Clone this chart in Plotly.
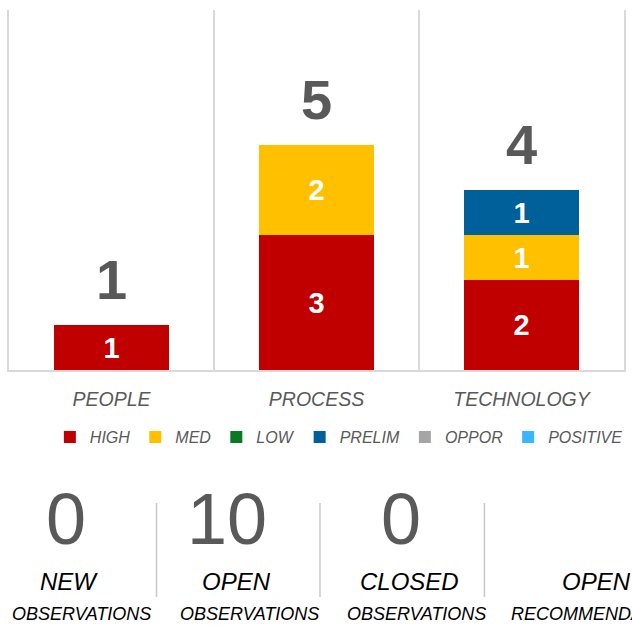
import plotly.graph_objects as go

# ---------------- data ----------------
categories = ["PEOPLE", "PROCESS", "TECHNOLOGY"]
series_names = ["HIGH", "MED", "LOW", "PRELIM", "OPPOR", "POSITIVE"]
high = [1, 3, 2]
med = [0, 2, 1]
low = [0, 0, 0]
prelim = [0, 0, 1]
oppor = [0, 0, 0]
positive = [0, 0, 0]
series_values = [high, med, low, prelim, oppor, positive]
series_colors = ["#C00000", "#FFC000", "#077A23", "#00609A", "#A6A6A6", "#38B6FF"]

kpi_values = ["0", "10", "0", ""]
kpi_titles = ["NEW", "OPEN", "CLOSED", "OPEN"]
kpi_subtitles = ["OBSERVATIONS", "OBSERVATIONS", "OBSERVATIONS", "RECOMMENDATIONS"]

# ---------------- layout helpers ----------------
W, H = 632, 626
ML, MR, MT, MB = 9, 6, 10, 256
PW = W - ML - MR
PH = H - MT - MB

def px_x(x):
    return (x - ML) / PW

def px_y(y):
    return (H - MB - y) / PH

SANS = "Liberation Sans, Arial, sans-serif"
GRAY = "#595959"

fig = go.Figure()
for name, vals, col in zip(series_names, series_values, series_colors):
    fig.add_trace(go.Bar(
        x=categories, y=vals, name=name,
        marker=dict(color=col, line=dict(width=0)),
        text=[str(v) if v else "" for v in vals],
        textposition="inside", insidetextanchor="middle",
        textfont=dict(color="white", size=29, family=SANS, weight="bold"),
        hoverinfo="skip",
    ))

totals = [sum(v[i] for v in series_values) for i in range(len(categories))]
annotations = []
for c, t in zip(categories, totals):
    annotations.append(dict(
        x=c, y=t, xref="x", yref="y", text=str(t), showarrow=False,
        yanchor="bottom", yshift=12,
        font=dict(family=SANS, size=56, color=GRAY, weight="bold"),
    ))

# KPI block
kpi_num_x = [66, 228, 402, 568]
kpi_title_x = [69, 237, 411, 598]
kpi_sub_x = [82, 250, 418, 511]
kpi_sub_anchor = ["center", "center", "center", "left"]
for i in range(4):
    if kpi_values[i]:
        annotations.append(dict(
            x=px_x(kpi_num_x[i]), y=px_y(519), xref="paper", yref="paper",
            text=kpi_values[i], showarrow=False, xanchor="center", yanchor="middle",
            font=dict(family=SANS, size=72, color=GRAY),
        ))
    annotations.append(dict(
        x=px_x(kpi_title_x[i]), y=px_y(581), xref="paper", yref="paper",
        text=kpi_titles[i], showarrow=False, xanchor="center", yanchor="middle",
        font=dict(family=SANS, size=24, color="#000000", style="italic"),
    ))
    annotations.append(dict(
        x=px_x(kpi_sub_x[i]), y=px_y(614), xref="paper", yref="paper",
        text=kpi_subtitles[i], showarrow=False, xanchor=kpi_sub_anchor[i], yanchor="middle",
        font=dict(family=SANS, size=18, color="#000000", style="italic"),
    ))

shapes = []
for sx in [157, 321, 486]:
    shapes.append(dict(type="line", xref="paper", yref="paper",
                       x0=px_x(sx), x1=px_x(sx), y0=px_y(503), y1=px_y(597),
                       line=dict(color="#C8C8C8", width=1.5)))

fig.update_layout(
    width=W, height=H,
    margin=dict(l=ML, r=MR, t=MT, b=MB, pad=0),
    paper_bgcolor="white", plot_bgcolor="white",
    barmode="stack", bargap=0.437,
    showlegend=True,
    legend=dict(orientation="h", x=px_x(50), y=px_y(437), xanchor="left", yanchor="middle",
                font=dict(family=SANS, size=16, color=GRAY, style="italic"),
                itemwidth=30, traceorder="normal", bgcolor="rgba(0,0,0,0)"),
    annotations=annotations,
    shapes=shapes,
    xaxis=dict(
        type="category", tickson="boundaries", showgrid=True, gridcolor="#D9D9D9", gridwidth=2,
        showline=True, linecolor="#D9D9D9", linewidth=2, ticks="",
        tickvals=categories, ticktext=categories,
        tickfont=dict(family=SANS, size=19.5, color=GRAY, style="italic"),
        ticklabelstandoff=11, range=[-0.5, 2.5], fixedrange=True,
    ),
    yaxis=dict(range=[0, 8], showgrid=False, showticklabels=False, zeroline=False,
               showline=True, mirror=True, linecolor="#D9D9D9", linewidth=2, fixedrange=True),
)

fig.write_html("out.html")
